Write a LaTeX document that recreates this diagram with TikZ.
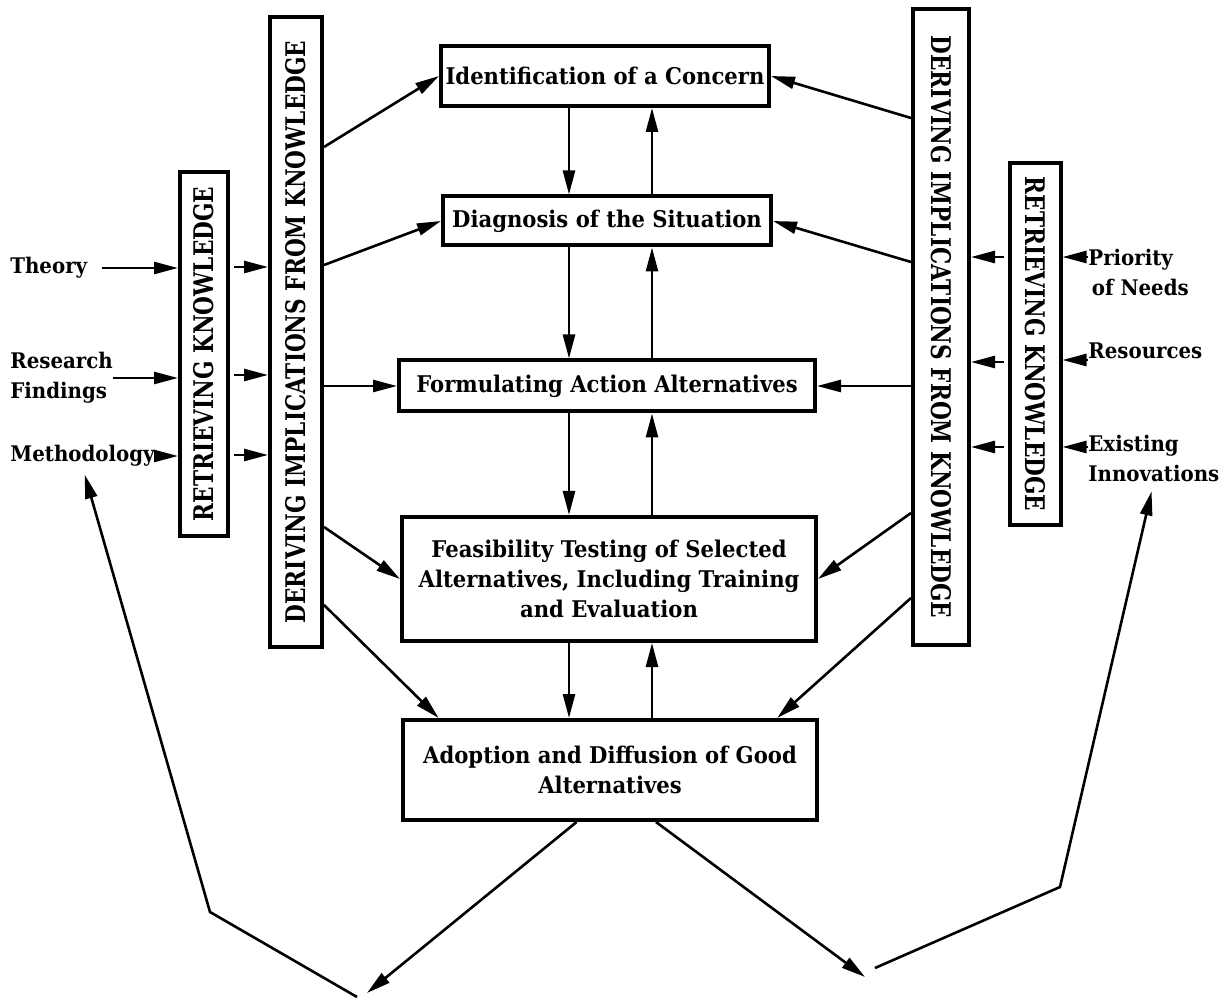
\documentclass[tikz,border=0pt]{standalone}
\usepackage{fontspec}
\setmainfont[FakeStretch=0.92]{DejaVu Serif}
\newfontfamily\barfont[FakeStretch=0.8]{DejaVu Serif}
\usepackage{tikz}
\usetikzlibrary{arrows.meta, calc}

\begin{document}
\begin{tikzpicture}[x=0.5pt, y=-0.5pt,
  arr/.style={-{Triangle[length=12pt,width=6pt]},line width=1.3pt},
  stage/.style={draw,line width=2pt,align=center,inner sep=2pt,font=\fontsize{11.5}{15}\selectfont\bfseries},
  bar/.style={draw,line width=2pt,inner sep=0pt,font=\fontsize{13.5}{15}\barfont\bfseries},
  src/.style={align=left,inner sep=0pt,font=\fontsize{10.75}{15}\selectfont\bfseries}
]
  \useasboundingbox (0,0) rectangle (1228,1000);

  % stages
  \node[stage,minimum width=164pt,minimum height=30pt] (ident) at (605,76) {Identification of a Concern};
  \node[stage,minimum width=164pt,minimum height=24.5pt] (diag) at (607,221) {Diagnosis of the Situation};
  \node[stage,minimum width=208pt,minimum height=25.5pt] (form) at (607,386) {Formulating Action Alternatives};
  \node[stage,minimum width=207pt,minimum height=62pt] (feas) at (609,579) {Feasibility Testing of Selected\\Alternatives, Including Training\\and Evaluation};
  \node[stage,minimum width=207pt,minimum height=50pt] (adopt) at (610,770) {Adoption and Diffusion of Good\\Alternatives};

  % knowledge bars
  \node[bar,rotate=90,minimum width=182pt,minimum height=24pt] (retL) at (204,354) {RETRIEVING KNOWLEDGE};
  \node[bar,rotate=90,minimum width=315pt,minimum height=26pt] (derL) at (296,332) {DERIVING IMPLICATIONS FROM KNOWLEDGE};
  \node[bar,rotate=-90,minimum width=318pt,minimum height=28pt] (derR) at (941,327) {DERIVING IMPLICATIONS FROM KNOWLEDGE};
  \node[bar,rotate=-90,minimum width=181pt,minimum height=25.5pt] (retR) at (1035,344) {RETRIEVING KNOWLEDGE};

  % sources
  \node[src,anchor=west] (theory) at (10,268) {Theory};
  \node[src,anchor=west] (research) at (10,378) {Research\\Findings};
  \node[src,anchor=west] (method) at (10,456) {Methodology};
  \node[src,anchor=west] (priority) at (1088,272) {Priority\\\,of Needs};
  \node[src,anchor=west] (resources) at (1088,351) {Resources};
  \node[src,anchor=west] (innov) at (1088,458) {Existing\\Innovations};

  \draw[arr,shorten <=7pt] (theory.east) -- (retL.north |- theory.east);
  \draw[arr] (research.east) -- (retL.north |- research.east);
  \draw[arr] (method.east) -- (retL.north |- method.east);
  \foreach \y in {267,375,455}
    \draw[arr,shorten <=2pt] (retL.south |- 0,\y) -- (derL.north |- 0,\y);

  \draw[arr] (priority.west |- 0,257) -- (retR.north |- 0,257);
  \draw[arr] (resources.west |- 0,360) -- (retR.north |- 0,360);
  \draw[arr] (innov.west |- 0,447) -- (retR.north |- 0,447);
  \foreach \y in {257,362,447}
    \draw[arr,shorten <=2pt] (retR.south |- 0,\y) -- (derR.north |- 0,\y);

  % implications into the stages
  \draw[arr] (derL.south |- 0,147) -- (ident.west);
  \draw[arr] (derL.south |- 0,265) -- (diag.west);
  \draw[arr] (derL.south |- form.west) -- (form.west);
  \draw[arr] (derL.south |- 0,527) -- (feas.west);
  \draw[arr] (derL.south |- 0,605) -- ($(adopt.north west)!0.09!(adopt.north east)$);
  \draw[arr] (derR.south |- 0,118) -- (ident.east);
  \draw[arr] (derR.south |- 0,262) -- (diag.east);
  \draw[arr] (derR.south |- form.east) -- (form.east);
  \draw[arr] (derR.south |- 0,513) -- (feas.east);
  \draw[arr] (derR.south |- 0,598) -- ($(adopt.north west)!0.9!(adopt.north east)$);

  \coordinate (dn) at (569,0);
  \coordinate (up) at (652,0);
  \foreach \a/\b in {ident/diag,diag/form,form/feas,feas/adopt} {
    \draw[arr] (\a.south -| dn) -- (\b.north -| dn);
    \draw[arr] (\b.north -| up) -- (\a.south -| up);
  }

  % outputs and feedback
  \coordinate (outL) at (367,993);
  \coordinate (outR) at (865,977);
  \draw[arr] ($(adopt.south west)!0.42!(adopt.south east)$) -- (outL);
  \draw[arr] ($(adopt.south west)!0.61!(adopt.south east)$) -- (outR);
  \coordinate (backL) at (357,997);
  \coordinate (bendL) at (210,912);
  \draw[arr,shorten >=4pt] (backL) -- (bendL) -- (method.south);
  \coordinate (backR) at (875,968);
  \coordinate (bendR) at (1060,887);
  \draw[arr,shorten >=5pt] (backR) -- (bendR) -- (innov.south);
\end{tikzpicture}
\end{document}
